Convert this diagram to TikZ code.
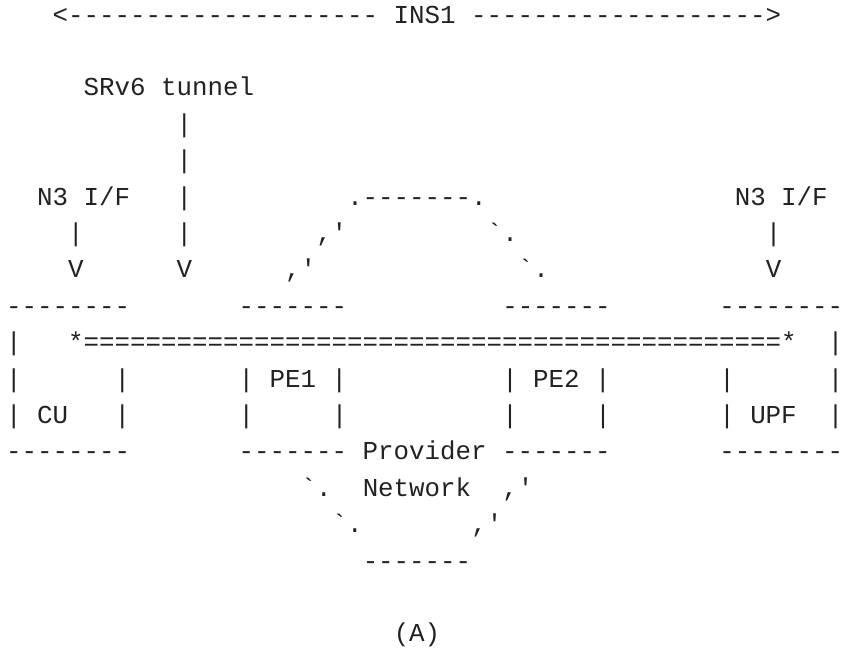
\documentclass[tikz,border=0pt]{standalone}
\usepackage{fontspec}
\setmonofont{Liberation Mono}
\usepackage{tikz}
\definecolor{artgray}{HTML}{222222}
\tikzset{
    every node/.style={anchor=base west, inner sep=0pt, outer sep=0pt,
    	text=artgray, font=\ttfamily\fontsize{25.83pt}{30pt}\selectfont}
}

\begin{document}
\begin{tikzpicture}[x=15.5pt, y=-36.4pt]
  \path[use as bounding box, fill=white] (-0.403, 0.368) rectangle (54.178, 18.335);

  % slice span
  \node (ins) at (3, 1) {<-------------------- INS1 ------------------->};

  % tunnel label and its pointer
  \node (srv6) at (5, 3) {SRv6 tunnel};
  \node (t1) at (11, 4) {|};
  \node (t2) at (11, 5) {|};
  \node (t3) at (11, 6) {|};
  \node (t4) at (11, 7) {|};
  \node (t5) at (11, 8) {V};

  % N3 interfaces
  \node (n3l) at (2, 6) {N3 I/F};
  \node (n3la) at (4, 7) {|};
  \node (n3lb) at (4, 8) {V};
  \node (n3r) at (47, 6) {N3 I/F};
  \node (n3ra) at (49, 7) {|};
  \node (n3rb) at (49, 8) {V};

  % provider network cloud, upper half
  \node (top) at (22, 6) {.-------.};
  \node (ul1) at (20, 7) {,'};
  \node (ur1) at (31, 7) {`.};
  \node (ul2) at (18, 8) {,'};
  \node (ur2) at (33, 8) {`.};

  % box tops
  \node (cu1) at (0, 9) {--------};
  \node (pe11) at (15, 9) {-------};
  \node (pe21) at (32, 9) {-------};
  \node (upf1) at (46, 9) {--------};

  % tunnel through the boxes
  \node (cu2) at (0, 10) {|};
  \node (tun) at (4, 10) {*=============================================*};
  \node (upf2) at (53, 10) {|};

  \node (cu3) at (0, 11) {|};
  \node (cu4) at (7, 11) {|};
  \node (pe1) at (15, 11) {| PE1 |};
  \node (pe2) at (32, 11) {| PE2 |};
  \node (upf3) at (46, 11) {|};
  \node (upf4) at (53, 11) {|};

  \node (cu) at (0, 12) {| CU};
  \node (cu5) at (7, 12) {|};
  \node (pe12) at (15, 12) {|};
  \node (pe13) at (21, 12) {|};
  \node (pe22) at (32, 12) {|};
  \node (pe23) at (38, 12) {|};
  \node (upf) at (46, 12) {| UPF};
  \node (upf5) at (53, 12) {|};

  % box bottoms
  \node (cu6) at (0, 13) {--------};
  \node (prov) at (15, 13) {------- Provider -------};
  \node (upf6) at (46, 13) {--------};

  % provider network cloud, lower half
  \node (ll1) at (19, 14) {`.};
  \node (net) at (23, 14) {Network};
  \node (lr1) at (32, 14) {,'};
  \node (ll2) at (21, 15) {`.};
  \node (lr2) at (30, 15) {,'};
  \node (bot) at (23, 16) {-------};

  \node (caption) at (25, 18) {(A)};
\end{tikzpicture}
\end{document}
